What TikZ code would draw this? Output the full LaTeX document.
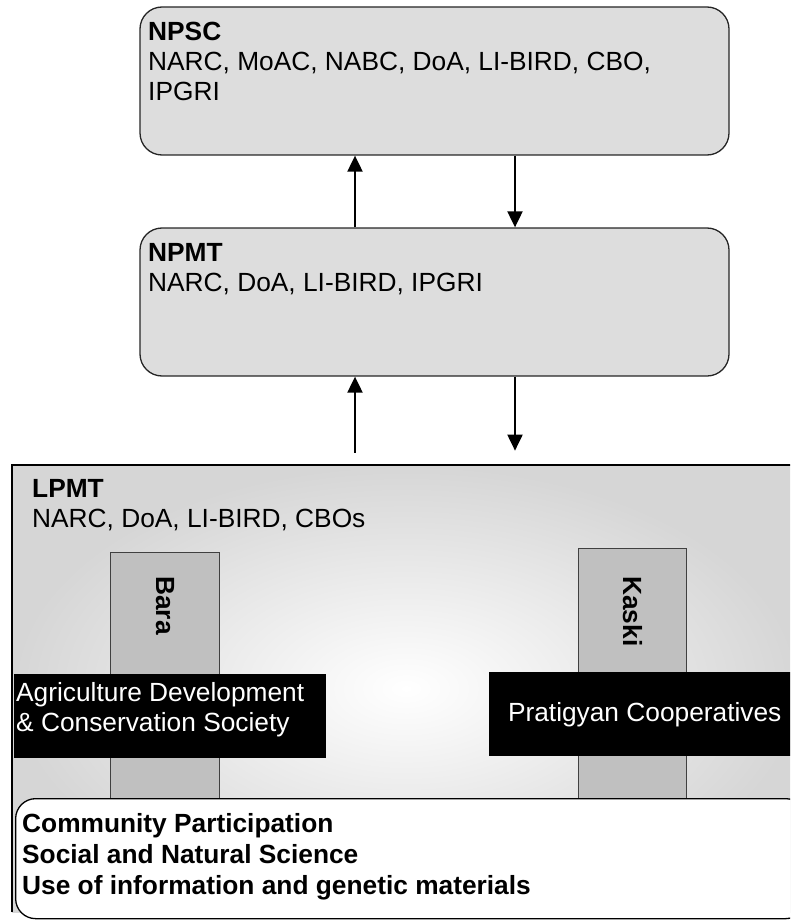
\documentclass[tikz,border=0pt]{standalone}
\usepackage{fontspec}
\setmainfont{Liberation Sans}
\usetikzlibrary{arrows.meta}
\definecolor{panelgray}{RGB}{221,221,221}
\definecolor{sitegray}{RGB}{192,192,192}
\definecolor{fieldgray}{RGB}{214,214,214}
\begin{document}
\begin{tikzpicture}[x=1pt, y=-1pt, >={Triangle[width=15pt,length=16pt]},
  panel/.style = {draw=black!85, line width=1.3pt, rounded corners=22pt, fill=panelgray,
                  minimum width=589pt, minimum height=148pt, inner sep=0pt},
  tagtext/.style = {anchor=north west, align=left, inner sep=0pt, font=\fontsize{26.3}{30}\selectfont},
  site/.style = {draw=black!75, line width=1pt, fill=sitegray, anchor=north west,
                 minimum width=108pt, minimum height=262pt, inner sep=0pt},
  sitetext/.style = {rotate=-90, anchor=west, inner sep=0pt, font=\fontsize{26.3}{30}\selectfont\bfseries},
  orgbox/.style = {fill=black, anchor=north west, minimum height=84pt, inner sep=0pt},
  flow/.style = {->, line width=2pt}]
  \useasboundingbox (0,0) rectangle (790,920);
  \clip (0,0) rectangle (790,920);

  % national level
  \node[panel] (npsc) at (434.5,81) {};
  \node[panel] (npmt) at (434.5,302) {};
  \node[tagtext] (npsctext) at (148,22) {\textbf{NPSC}\\NARC, MoAC, NABC, DoA, LI-BIRD, CBO,\\IPGRI};
  \node[tagtext] (npmttext) at (148,243) {\textbf{NPMT}\\NARC, DoA, LI-BIRD, IPGRI};

  \coordinate (up) at (355,0);
  \coordinate (down) at (515,0);
  \draw[flow] (up |- npmt.north) -- (up |- npsc.south);
  \draw[flow] (down |- npsc.south) -- (down |- npmt.north);
  \draw[flow] (up |- npmt.south) ++(0,76) -- (up |- npmt.south);
  \draw[flow] (down |- npmt.south) -- ++(0,74);

  % local level
  \node[shading=radial, inner color=white, outer color=fieldgray, minimum width=788pt,
        minimum height=447pt, inner sep=0pt] (lpmt) at (406,688.5) {};
  \draw[line width=2.6pt] (lpmt.south west) |- (lpmt.north east);
  \node[tagtext] (lpmttext) at (32,479) {\textbf{LPMT}\\NARC, DoA, LI-BIRD, CBOs};

  \node[site, minimum width=109pt] (bara) at (110,552) {};
  \node[site] (kaski) at (578,548) {};
  \node[sitetext] (baratext) at ([yshift=-24pt]bara.north) {Bara};
  \node[sitetext] (kaskitext) at ([yshift=-28pt]kaski.north) {Kaski};

  \node[orgbox, minimum width=312pt] (acs) at (14,674) {};
  \node[tagtext, text=white] (acstext) at ([shift={(2pt,-8pt)}]acs.north west)
    {Agriculture Development\\\& Conservation Society};
  \node[orgbox, minimum width=311pt, text=white, font=\fontsize{26.3}{30}\selectfont] (pratigyan) at (489,672)
    {Pratigyan Cooperatives};

  \node[draw=black, line width=1.3pt, fill=white, rounded corners=20pt, anchor=north west,
        minimum width=790pt, minimum height=120pt, inner sep=0pt] (base) at (15,798) {};
  \node[tagtext, font=\fontsize{26.3}{31}\selectfont\bfseries] (basetext) at (22,813)
    {Community Participation\\Social and Natural Science\\Use of information and genetic materials};
\end{tikzpicture}
\end{document}
